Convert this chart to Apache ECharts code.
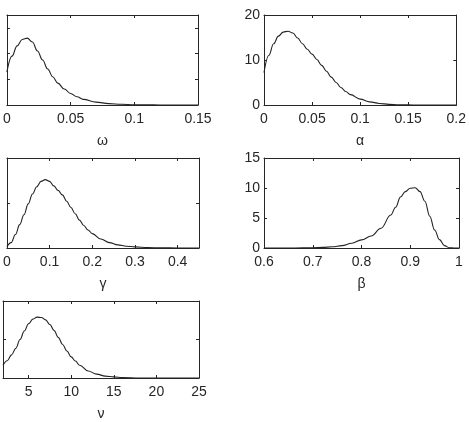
<!DOCTYPE html>
<html>
<head>
<meta charset="utf-8">
<script src="https://cdn.jsdelivr.net/npm/echarts@6/dist/echarts.min.js"></script>
<style>
html, body { margin: 0; padding: 0; background: #fff; }
#main { width: 469px; height: 422px; }
</style>
</head>
<body>
<div id="main"></div>
<script>
// posterior densities
var omegaX = [0, 0.004, 0.008, 0.012, 0.016, 0.02, 0.024, 0.028, 0.032, 0.036, 0.04, 0.045, 0.05, 0.055, 0.06, 0.07, 0.08, 0.09, 0.1, 0.11, 0.12, 0.15];
var omegaY = [12.8, 19, 23, 25.5, 26, 24.5, 21, 17.5, 14, 11, 8.5, 6.2, 4.5, 3.2, 2.2, 1.1, 0.55, 0.28, 0.12, 0.05, 0.02, 0];

var alphaX = [0, 0.005, 0.01, 0.015, 0.02, 0.025, 0.03, 0.035, 0.04, 0.045, 0.05, 0.055, 0.06, 0.065, 0.07, 0.075, 0.08, 0.085, 0.09, 0.1, 0.11, 0.12, 0.13, 0.14, 0.15, 0.16, 0.2];
var alphaY = [7.2, 11, 13.6, 15.3, 16.2, 16.4, 16, 14.9, 13.6, 12.4, 11.3, 10.1, 8.8, 7.5, 6.2, 5, 3.9, 3, 2.3, 1.3, 0.7, 0.35, 0.15, 0.06, 0.02, 0, 0];

var gammaX = [0, 0.01, 0.02, 0.03, 0.04, 0.05, 0.06, 0.07, 0.08, 0.09, 0.1, 0.11, 0.12, 0.13, 0.14, 0.15, 0.16, 0.17, 0.18, 0.19, 0.2, 0.22, 0.24, 0.26, 0.28, 0.3, 0.33, 0.36, 0.4, 0.45];
var gammaY = [0.15, 0.6, 1.5, 2.6, 3.7, 4.9, 6.0, 6.8, 7.4, 7.6, 7.4, 6.9, 6.4, 5.9, 5.2, 4.5, 3.8, 3.1, 2.5, 2.0, 1.6, 1.0, 0.6, 0.35, 0.2, 0.12, 0.05, 0.02, 0, 0];

var betaX = [0.6, 0.65, 0.68, 0.7, 0.72, 0.74, 0.76, 0.78, 0.8, 0.82, 0.84, 0.86, 0.87, 0.88, 0.89, 0.9, 0.91, 0.92, 0.93, 0.94, 0.95, 0.96, 0.97, 0.98, 0.99, 1];
var betaY = [0, 0, 0.02, 0.05, 0.1, 0.2, 0.4, 0.8, 1.35, 2.0, 3.3, 5.5, 6.8, 8.5, 9.4, 9.95, 10.05, 9.4, 7.8, 5.3, 3.0, 1.4, 0.4, 0.05, 0, 0];

var nuX = [2, 2.5, 3, 3.5, 4, 4.5, 5, 5.5, 6, 6.5, 7, 7.5, 8, 8.5, 9, 9.5, 10, 10.5, 11, 12, 13, 14, 15, 16, 18, 25];
var nuY = [0.033, 0.045, 0.06, 0.077, 0.1, 0.122, 0.141, 0.153, 0.158, 0.157, 0.151, 0.139, 0.123, 0.105, 0.087, 0.07, 0.055, 0.044, 0.033, 0.018, 0.01, 0.005, 0.003, 0.001, 0, 0];

// tick values
var omegaTicks = [0, 0.05, 0.1, 0.15], omegaYTicks = [0, 10, 20, 30];
var alphaTicks = [0, 0.05, 0.1, 0.15, 0.2], alphaYTicks = [0, 10, 20];
var gammaTicks = [0, 0.1, 0.2, 0.3, 0.4], gammaYTicks = [0, 5, 10];
var betaTicks = [0.6, 0.7, 0.8, 0.9, 1], betaYTicks = [0, 5, 10, 15];
var nuTicks = [5, 10, 15, 20, 25], nuYTicks = [0, 0.1, 0.2];

var panels = [
  { name: '\u03c9', x: omegaX, y: omegaY, xr: [0, 0.15], yr: [0, 35], xt: omegaTicks, yt: omegaYTicks, box: [3, 15, 195, 90], ylab: false },
  { name: '\u03b1', x: alphaX, y: alphaY, xr: [0, 0.2], yr: [0, 20], xt: alphaTicks, yt: alphaYTicks, box: [264, 15, 195, 90], ylab: true },
  { name: '\u03b3', x: gammaX, y: gammaY, xr: [0, 0.45], yr: [0, 10], xt: gammaTicks, yt: gammaYTicks, box: [3, 158, 196, 90], ylab: false },
  { name: '\u03b2', x: betaX, y: betaY, xr: [0.6, 1], yr: [0, 15], xt: betaTicks, yt: betaYTicks, box: [264, 158, 195, 90], ylab: true },
  { name: '\u03bd', x: nuX, y: nuY, xr: [2, 25], yr: [0, 0.2], xt: nuTicks, yt: nuYTicks, box: [3, 301, 196, 91], ylab: false }
];

var axisColor = '#262626';
var font = 'Liberation Sans, Arial, sans-serif';

var grids = [], xAxes = [], yAxes = [], series = [];

panels.forEach(function (p, i) {
  grids.push({ left: p.box[0], top: p.box[1], width: p.box[2], height: p.box[3], containLabel: false });

  var line = { show: true, onZero: false, lineStyle: { color: axisColor, width: 1 } };
  var tick = function (vals) {
    return { show: true, inside: true, length: 3, customValues: vals, lineStyle: { color: axisColor } };
  };

  xAxes.push({
    type: 'value', gridIndex: i, position: 'bottom', min: p.xr[0], max: p.xr[1],
    name: p.name, nameLocation: 'middle', nameGap: 29,
    nameTextStyle: { fontSize: 14, color: axisColor, fontFamily: font },
    axisLine: line, axisTick: tick(p.xt), splitLine: { show: false },
    axisLabel: { customValues: p.xt, margin: 7, fontSize: 14, color: axisColor, fontFamily: font }
  });
  xAxes.push({
    type: 'value', gridIndex: i, position: 'top', min: p.xr[0], max: p.xr[1],
    axisLine: line, axisTick: tick(p.xt), splitLine: { show: false }, axisLabel: { show: false }
  });
  yAxes.push({
    type: 'value', gridIndex: i, position: 'left', min: p.yr[0], max: p.yr[1],
    axisLine: line, axisTick: tick(p.yt), splitLine: { show: false },
    axisLabel: { show: p.ylab, customValues: p.yt, margin: 4, fontSize: 14, color: axisColor, fontFamily: font }
  });
  yAxes.push({
    type: 'value', gridIndex: i, position: 'right', min: p.yr[0], max: p.yr[1],
    axisLine: line, axisTick: tick(p.yt), splitLine: { show: false }, axisLabel: { show: false }
  });

  series.push({
    type: 'line', xAxisIndex: i * 2, yAxisIndex: i * 2,
    data: p.x.map(function (v, k) { return [v, p.y[k]]; }),
    showSymbol: false, symbol: 'none', smooth: 0.4, smoothMonotone: 'x',
    lineStyle: { color: '#222', width: 1.1 }, animation: false, silent: true
  });
});

var myChart = echarts.init(document.getElementById('main'));
myChart.setOption({
  backgroundColor: '#fff',
  animation: false,
  grid: grids,
  xAxis: xAxes,
  yAxis: yAxes,
  series: series
});
</script>
</body>
</html>
